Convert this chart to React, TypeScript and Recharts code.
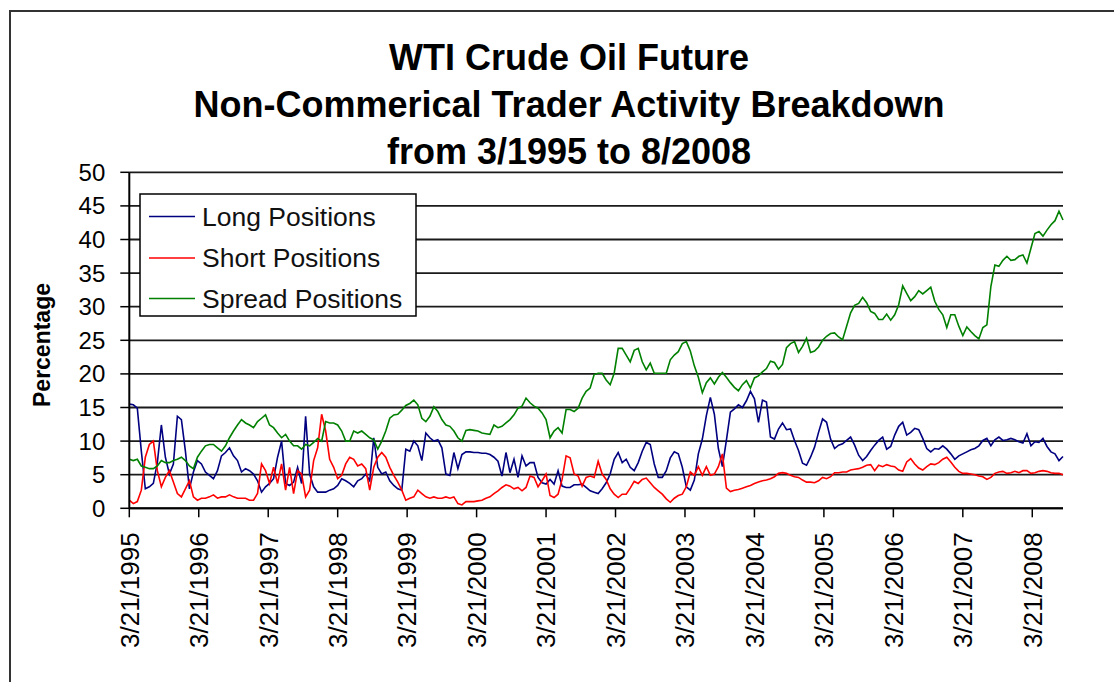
import { LineChart, Line, XAxis, YAxis, CartesianGrid, Legend } from 'recharts';

const FONT = '"Liberation Sans", Arial, sans-serif';

// one sample every 3 weeks, starting 3/21/1995
const WEEK_STEP = 3;
const LAST_WEEK = 699;

const tickYears = [1995, 1996, 1997, 1998, 1999, 2000, 2001, 2002, 2003, 2004, 2005, 2006, 2007, 2008];
const xTicks = tickYears.map((_, i) => i * 52);
const xTickLabels = tickYears.map((y) => `3/21/${y}`);
const yTicks = [0, 5, 10, 15, 20, 25, 30, 35, 40, 45, 50];

const longPositions = [
  15.5, 15.4, 14.9, 8.5, 2.9, 3.2, 3.7, 6.8, 12.4, 7.6,
  5.1, 6.6, 13.7, 13.2, 8.5, 2.9, 5.4, 7.1, 6.6, 5.4,
  4.9, 4.4, 5.6, 7.8, 8.3, 9.0, 7.8, 7.1, 5.4, 5.9,
  5.6, 5.1, 4.1, 2.4, 3.2, 3.7, 4.4, 7.6, 10.0, 3.7,
  3.4, 3.9, 6.1, 3.7, 13.7, 5.1, 3.2, 2.4, 2.4, 2.4,
  2.7, 2.9, 3.4, 4.4, 4.1, 3.7, 3.2, 4.1, 4.4, 5.1,
  4.1, 10.5, 6.1, 5.1, 5.4, 4.1, 3.4, 2.9, 2.7, 8.8,
  8.5, 10.0, 9.3, 7.1, 11.2, 10.5, 10.0, 10.2, 9.0, 5.1,
  4.9, 8.3, 5.9, 8.0, 8.4, 8.4, 8.3, 8.3, 8.2, 8.2,
  8.0, 7.6, 7.0, 4.8, 8.3, 5.3, 7.3, 4.6, 7.8, 6.3,
  6.8, 6.8, 4.6, 3.8, 3.6, 4.3, 3.6, 5.6, 3.3, 3.1,
  3.1, 3.5, 3.5, 3.6, 3.1, 2.6, 2.4, 2.2, 2.9, 3.8,
  5.1, 7.3, 8.3, 6.8, 7.3, 6.1, 5.6, 6.8, 8.5, 9.8,
  9.5, 6.6, 4.6, 4.6, 5.6, 7.5, 8.4, 8.1, 6.1, 3.2,
  2.7, 4.2, 8.1, 10.3, 13.8, 16.5, 14.0, 8.9, 6.2, 10.1,
  14.3, 14.8, 15.4, 15.0, 16.0, 17.4, 16.3, 12.8, 16.1, 15.8,
  10.6, 10.3, 11.8, 12.7, 11.7, 11.8, 10.1, 8.6, 6.7, 6.4,
  7.6, 9.1, 11.3, 13.3, 12.8, 10.3, 8.9, 9.4, 9.6, 10.1,
  10.6, 9.4, 7.9, 7.1, 7.7, 8.6, 9.4, 10.1, 10.6, 8.8,
  9.2, 10.9, 12.2, 12.8, 10.9, 11.3, 11.9, 11.7, 10.4, 8.9,
  8.4, 8.9, 8.8, 9.3, 8.8, 8.1, 7.3, 7.8, 8.1, 8.4,
  8.7, 8.9, 9.3, 10.1, 10.4, 9.3, 10.2, 10.6, 10.1, 10.2,
  10.4, 10.2, 9.9, 9.7, 11.1, 9.3, 9.9, 9.8, 10.4, 9.2,
  8.4, 8.1, 7.1, 7.7,
];

const shortPositions = [
  1.2, 0.7, 1.0, 2.7, 7.6, 9.5, 10.0, 5.6, 3.2, 4.6,
  5.6, 3.9, 2.2, 1.7, 2.9, 4.1, 1.7, 1.2, 1.5, 1.5,
  1.7, 2.0, 1.5, 1.7, 1.7, 2.0, 1.7, 1.5, 1.5, 1.5,
  1.2, 1.2, 2.2, 6.6, 5.6, 3.7, 6.1, 3.7, 6.6, 2.7,
  6.1, 2.2, 5.6, 5.1, 1.7, 2.7, 7.1, 9.0, 14.0, 11.5,
  7.3, 6.1, 4.4, 4.9, 6.6, 7.6, 7.3, 6.3, 6.6, 5.9,
  2.7, 6.1, 7.6, 8.3, 7.6, 6.1, 4.9, 3.9, 2.7, 1.2,
  1.5, 1.7, 2.7, 2.2, 1.7, 1.5, 1.7, 1.5, 1.5, 1.7,
  1.5, 1.7, 0.7, 0.5, 1.0, 1.0, 1.0, 1.1, 1.2, 1.5,
  1.7, 2.2, 2.6, 3.1, 3.5, 3.3, 2.9, 3.1, 2.6, 3.1,
  4.8, 4.6, 3.2, 4.1, 5.1, 1.9, 1.6, 2.1, 4.3, 7.8,
  7.5, 5.1, 4.8, 3.3, 4.6, 4.8, 4.6, 7.0, 5.1, 4.3,
  2.9, 2.1, 1.6, 2.1, 2.1, 3.0, 4.0, 3.7, 4.3, 4.5,
  3.8, 3.1, 2.6, 2.1, 1.4, 0.9, 1.5, 1.9, 2.1, 3.2,
  5.4, 4.9, 6.2, 4.9, 6.2, 4.9, 5.1, 6.2, 8.1, 3.0,
  2.5, 2.7, 2.8, 3.0, 3.2, 3.4, 3.7, 3.9, 4.1, 4.2,
  4.4, 4.7, 5.2, 5.3, 5.2, 4.9, 4.7, 4.6, 4.2, 3.9,
  3.9, 3.8, 4.1, 4.6, 4.4, 4.7, 5.3, 5.3, 5.4, 5.4,
  5.7, 5.8, 5.9, 6.1, 6.4, 6.5, 5.6, 6.4, 6.2, 6.5,
  6.3, 6.2, 5.7, 5.5, 6.9, 7.4, 6.6, 6.0, 5.7, 6.2,
  6.6, 6.5, 6.8, 7.3, 7.6, 6.9, 6.1, 5.5, 5.2, 5.2,
  5.1, 5.0, 4.8, 4.7, 4.3, 4.6, 5.2, 5.4, 5.5, 5.2,
  5.3, 5.5, 5.3, 5.6, 5.6, 5.2, 5.3, 5.5, 5.6, 5.5,
  5.3, 5.2, 5.2, 5.0,
];

const spreadPositions = [
  7.3, 7.1, 7.3, 6.3, 6.1, 5.9, 5.9, 6.3, 7.1, 6.8,
  6.8, 7.1, 7.3, 7.6, 7.1, 6.3, 5.9, 7.6, 8.5, 9.3,
  9.5, 9.5, 9.0, 8.5, 9.3, 10.5, 11.5, 12.4, 13.2, 12.7,
  12.4, 12.0, 12.9, 13.4, 13.9, 12.4, 12.0, 11.2, 10.5, 11.0,
  10.0, 9.3, 9.3, 8.8, 9.5, 9.3, 9.8, 10.4, 10.0, 12.9,
  12.7, 12.7, 12.4, 11.5, 10.0, 10.0, 11.5, 11.2, 11.5, 11.0,
  10.5, 10.2, 8.8, 10.0, 11.5, 13.4, 13.9, 14.0, 14.6, 15.3,
  15.6, 16.1, 15.4, 13.4, 12.9, 13.7, 15.1, 14.4, 13.2, 12.4,
  12.2, 11.5, 10.5, 10.0, 11.6, 11.7, 11.6, 11.5, 11.2, 11.1,
  11.0, 12.4, 12.0, 12.2, 12.7, 13.2, 13.9, 14.9, 15.2, 16.4,
  15.7, 15.2, 14.9, 14.2, 13.2, 10.5, 11.5, 12.0, 11.2, 14.7,
  14.7, 14.4, 14.9, 16.4, 17.4, 17.9, 19.9, 20.1, 20.1, 19.1,
  18.4, 20.1, 23.8, 23.8, 22.8, 21.8, 23.5, 23.8, 21.8, 20.6,
  21.6, 20.1, 20.1, 20.1, 20.1, 22.1, 22.8, 23.3, 24.5, 24.8,
  23.4, 21.2, 19.5, 17.2, 18.7, 19.4, 18.5, 19.5, 20.2, 19.5,
  18.7, 18.0, 17.5, 18.4, 19.0, 17.9, 19.4, 19.7, 20.3, 20.8,
  21.9, 21.7, 20.7, 21.4, 23.9, 24.5, 24.8, 23.2, 24.1, 25.3,
  23.2, 23.4, 24.0, 25.0, 25.6, 26.0, 26.1, 25.5, 25.1, 27.1,
  29.1, 30.2, 30.5, 31.4, 30.6, 29.3, 29.0, 28.1, 28.1, 28.9,
  28.0, 28.8, 30.3, 33.1, 32.0, 30.9, 31.5, 32.4, 31.9, 32.4,
  32.9, 30.8, 29.6, 28.8, 26.9, 28.8, 28.8, 27.1, 25.7, 27.0,
  26.3, 25.7, 25.2, 26.9, 27.3, 33.0, 36.2, 36.0, 36.9, 37.5,
  36.9, 37.0, 37.5, 37.7, 36.5, 38.7, 40.9, 41.2, 40.5, 41.4,
  42.2, 42.8, 44.2, 42.9,
];

const series = [
  { key: 'long', name: 'Long Positions', color: '#000080' },
  { key: 'short', name: 'Short Positions', color: '#ff0000' },
  { key: 'spread', name: 'Spread Positions', color: '#008000' },
];

const data = longPositions.map((v, i) => ({
  week: i * WEEK_STEP,
  long: v,
  short: shortPositions[i],
  spread: spreadPositions[i],
}));

function DateTick({ x, y, payload }: any) {
  const label = xTickLabels[xTicks.indexOf(payload.value)];
  return (
    <text
      x={x}
      y={y}
      transform={`rotate(-90, ${x}, ${y})`}
      textAnchor="end"
      dy="0.36em"
      fontSize={26}
      fontFamily={FONT}
      fill="#000"
    >
      {label}
    </text>
  );
}

function LegendBox() {
  const rows = [23.5, 65, 105.5];
  return (
    <svg width={278} height={124} style={{ display: 'block' }}>
      <rect x={1} y={1} width={276} height={122} fill="#fff" stroke="#000" strokeWidth={1.5} />
      {series.map((s, i) => (
        <g key={s.key}>
          <line x1={10} x2={56} y1={rows[i]} y2={rows[i]} stroke={s.color} strokeWidth={1.6} />
          <text x={63} y={rows[i]} dy="0.35em" fontSize={26.5} fontFamily={FONT} fill="#111">
            {s.name}
          </text>
        </g>
      ))}
    </svg>
  );
}

export default function App() {
  return (
    <div
      style={{
        position: 'absolute',
        left: 0,
        top: 0,
        width: 1114,
        height: 682,
        overflow: 'hidden',
        background: '#fff',
      }}
    >
      <div
        style={{
          position: 'absolute',
          left: 9,
          top: 10,
          width: 1200,
          height: 800,
          border: '2px solid #333',
          boxSizing: 'border-box',
        }}
      />
      <div style={{ position: 'absolute', left: 0, top: 0 }}>
        <LineChart
          width={1114}
          height={682}
          data={data}
          margin={{ top: 172.3, right: 51, bottom: 23.7, left: 69.3 }}
        >
          <CartesianGrid vertical={false} stroke="#1a1a1a" strokeWidth={1.8} />
          <XAxis
            dataKey="week"
            type="number"
            domain={[0, LAST_WEEK]}
            ticks={xTicks}
            interval={0}
            height={150}
            tickSize={9}
            tickMargin={15}
            axisLine={{ stroke: '#000', strokeWidth: 2 }}
            tickLine={{ stroke: '#000', strokeWidth: 1.5 }}
            tick={(props: any) => <DateTick {...props} />}
          />
          <YAxis
            domain={[0, 50]}
            ticks={yTicks}
            interval={0}
            width={60}
            tickSize={9}
            tickMargin={15}
            axisLine={{ stroke: '#000', strokeWidth: 2 }}
            tickLine={{ stroke: '#000', strokeWidth: 1.5 }}
            tick={{ fontSize: 24, fill: '#000', fontFamily: FONT }}
          />
          <Legend
            layout="horizontal"
            verticalAlign="middle"
            align="center"
            wrapperStyle={{ left: 139, top: 193, width: 278, height: 124 }}
            content={() => <LegendBox />}
          />
          {series.map((s) => (
            <Line
              key={s.key}
              type="linear"
              dataKey={s.key}
              name={s.name}
              stroke={s.color}
              strokeWidth={1.6}
              dot={false}
              activeDot={false}
              isAnimationActive={false}
            />
          ))}
        </LineChart>
      </div>
      <svg
        width={1114}
        height={682}
        style={{ position: 'absolute', left: 0, top: 0, pointerEvents: 'none' }}
      >
        <g fontFamily={FONT} fontWeight="bold" fill="#000" textAnchor="middle" fontSize={36}>
          <text x={569} y={70}>WTI Crude Oil Future</text>
          <text x={569} y={117}>Non-Commerical Trader Activity Breakdown</text>
          <text x={569} y={164}>from 3/1995 to 8/2008</text>
        </g>
        <text
          x={42}
          y={345}
          transform="rotate(-90, 42, 345)"
          textAnchor="middle"
          dy="0.35em"
          fontFamily={FONT}
          fontWeight="bold"
          fontSize={23}
          fill="#000"
        >
          Percentage
        </text>
      </svg>
    </div>
  );
}
